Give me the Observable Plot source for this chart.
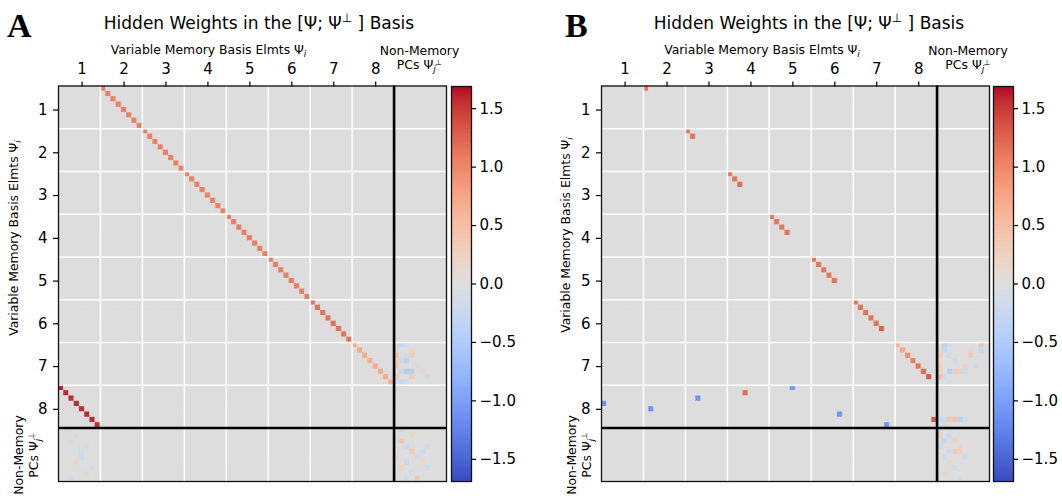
<!DOCTYPE html>
<html><head><meta charset="utf-8">
<script src="https://cdn.jsdelivr.net/npm/d3@7"></script>
<script src="https://cdn.jsdelivr.net/npm/@observablehq/plot@0.6"></script>
<style>
html,body{margin:0;padding:0;background:#fff;}
#fig{position:relative;width:1062px;height:498px;overflow:hidden;background:#fff;}
#fig svg{position:absolute;top:0;display:block;overflow:visible;}
#overlay{left:0;top:0;pointer-events:none;font-family:"DejaVu Sans",sans-serif;fill:#000;}
</style></head>
<body><div id="fig"></div>
<script>
// ---------------- data ----------------
const N_MEM = 64;            // 8 variables x 8 memory dims
const N_NONMEM = 10;         // non-memory PCs
const N = N_MEM + N_NONMEM;
const DIMS_PER_VAR = 8;
const varTicks = [1, 2, 3, 4, 5, 6, 7, 8];
const cbarTicks = [-1.5, -1.0, -0.5, 0.0, 0.5, 1.0, 1.5];
const V_MAX = 1.69;

// matplotlib "coolwarm" colour stops
const coolwarm = ["#3b4cc0","#445acc","#4d68d7","#5775e1","#6282ea","#6c8ef1","#779af7","#82a5fb","#8db0fe","#98b9ff","#a3c2ff","#aec9fd","#b8d0f9","#c2d5f4","#ccd9ee","#d5dbe6","#dddddd","#e5d8d1","#ecd3c5","#f1ccb9","#f5c4ad","#f7bba0","#f7b194","#f7a687","#f49a7b","#f18d6f","#ec7f63","#e57058","#de604d","#d55042","#cb3e38","#c0282f","#b40426"];

// Panel A: memory row r feeds column (r + 8) mod 64 ; one value per row
const aShiftValues = [
  1.05,1.05,1.05,1.05,1.05,1.05,1.05,1.05,
  1.05,1.05,1.05,1.05,1.05,1.05,1.05,1.05,
  1.05,1.05,1.05,1.05,1.05,1.05,1.05,1.05,
  1.07,1.07,1.07,1.07,1.07,1.07,1.07,1.07,
  1.07,1.07,1.07,1.07,1.07,1.07,1.07,1.07,
  1.15,1.15,1.15,1.15,1.15,1.15,1.15,1.15,
  0.66,0.68,0.68,0.66,0.68,0.70,0.68,0.66,
  1.62,1.58,1.58,1.56,1.56,1.58,1.58,1.56
];
// Panel A small entries [row, col, value]
const aNoise = [
  [48,64,-0.2],[48,65,-0.3],[48,66,-0.15],[49,64,0.25],[49,67,0.2],[50,64,0.45],[50,66,-0.2],[50,67,0.3],
  [51,64,0.3],[51,65,-0.2],[51,66,-0.35],[52,64,0.4],[52,68,0.15],[53,65,-0.3],[53,66,-0.5],[53,67,-0.45],
  [53,69,0.15],[54,64,0.35],[54,67,0.3],[54,70,-0.15],[55,64,-0.2],[55,65,-0.25],[55,66,-0.15],
  [64,65,-0.15],[65,67,0.15],[66,64,-0.2],[66,65,0.4],[67,66,-0.2],[67,70,-0.15],[68,67,0.35],[68,69,-0.2],
  [69,64,0.2],[69,68,-0.2],[70,66,-0.25],[70,69,0.15],[71,65,0.2],[71,70,-0.2],[72,67,-0.15],[73,68,0.35],[73,66,-0.15],
  [64,1,0.1],[65,3,-0.1],[66,2,0.12],[67,5,-0.12],[68,4,-0.15],[69,4,-0.2],[70,3,0.15],[71,6,-0.1],[72,5,0.12],[73,2,-0.1]
];

// Panel B entries [row, col, value]
const bEntries = [
  [0,8,1.12],
  [8,16,1.12],[9,17,1.15],
  [16,24,1.12],[17,25,1.12],[18,26,1.18],
  [24,32,1.12],[25,33,1.12],[26,34,1.12],[27,35,1.15],
  [32,40,1.12],[33,41,1.12],[34,42,1.12],[35,43,1.12],[36,44,1.15],
  [40,48,1.12],[41,49,1.15],[42,50,1.15],[43,51,1.15],[44,52,1.15],[45,53,1.25],
  [48,56,0.62],[49,57,0.72],[50,58,0.95],[51,59,1.05],[52,60,1.12],[53,61,1.2],[54,62,1.3],
  [56,36,-1.05],[57,27,1.2],[58,18,-1.1],[59,0,-1.15],[60,9,-1.1],[61,45,-1.1],[62,63,1.3],[63,54,-1.1]
];
const bNoise = [
  [48,65,-0.35],[48,66,-0.15],[48,72,0.45],[49,65,-0.3],[49,72,-0.3],[49,70,0.15],[50,64,0.35],[50,66,-0.2],
  [50,70,0.3],[51,64,0.2],[51,67,-0.15],[52,64,0.3],[52,69,0.2],[52,71,-0.2],[53,64,0.2],[53,66,-0.45],
  [53,67,0.3],[53,68,0.25],[53,69,-0.2],[54,64,0.55],[54,65,-0.15],[55,66,-0.1],
  [62,64,-0.3],[62,65,-0.25],[62,66,0.4],[62,67,0.45],[62,68,-0.4],[62,69,-0.15],[63,65,0.15],
  [64,64,-0.15],[65,64,0.3],[65,66,-0.2],[66,65,-0.3],[66,67,0.25],[67,64,-0.25],[67,68,0.2],[68,66,-0.2],
  [68,67,0.35],[68,68,0.3],[69,65,-0.2],[69,69,-0.2],[70,66,0.15],[71,67,-0.15],[72,65,0.1],[73,68,-0.1]
];

// ---------------- build ----------------
function cellsFrom(entries) {
  const m = Array.from({length: N}, () => new Array(N).fill(0));
  for (const [r, c, v] of entries) m[r][c] = v;
  const out = [];
  for (let r = 0; r < N; r++) for (let c = 0; c < N; c++) out.push({row: r, col: c, value: m[r][c]});
  return out;
}
const aEntries = aShiftValues.map((v, r) => [r, (r + DIMS_PER_VAR) % N_MEM, v]).concat(aNoise);
const cellsA = cellsFrom(aEntries);
const cellsB = cellsFrom(bEntries.concat(bNoise));

const tickPos = varTicks.map(k => (k - 1) * DIMS_PER_VAR + DIMS_PER_VAR / 2);
const gridPos = varTicks.slice(0, -1).map(k => k * DIMS_PER_VAR - 0.5);
const splitPos = [N_MEM - 0.5];
const tickFmt = d => String(varTicks[tickPos.indexOf(d)]);

const colorOpts = {
  type: "linear",
  domain: coolwarm.map((_, i) => -V_MAX + 2 * V_MAX * i / (coolwarm.length - 1)),
  range: coolwarm,
  clamp: true
};
const TOP = 85.5, BOTTOM = 481;
const baseStyle = {fontFamily: "DejaVu Sans, sans-serif", fontSize: "15px", color: "#000", background: "transparent", overflow: "visible"};

function heatmap(cells) {
  return Plot.plot({
    width: 450, height: 498,
    marginLeft: 58, marginRight: 4, marginTop: TOP, marginBottom: 498 - BOTTOM,
    x: {domain: [-0.5, N - 0.5], axis: null},
    y: {domain: [N - 0.5, -0.5], axis: null},
    color: colorOpts,
    style: baseStyle,
    marks: [
      Plot.rect([0], {x1: () => -0.5, x2: () => N - 0.5, y1: () => -0.5, y2: () => N - 0.5, fill: () => 0}),
      Plot.rect(cells, {x1: d => d.col - 0.5, x2: d => d.col + 0.5, y1: d => d.row - 0.5, y2: d => d.row + 0.5, fill: "value"}),
      Plot.ruleX(gridPos, {stroke: "#fff", strokeWidth: 1.5}),
      Plot.ruleY(gridPos, {stroke: "#fff", strokeWidth: 1.5}),
      Plot.ruleX(splitPos, {stroke: "#000", strokeWidth: 2.6}),
      Plot.ruleY(splitPos, {stroke: "#000", strokeWidth: 2.6}),
      Plot.frame({stroke: "#111", strokeWidth: 1.3}),
      Plot.axisX(tickPos, {anchor: "top", tickFormat: tickFmt, tickSize: 5, tickPadding: 7, label: null, strokeWidth: 1.2}),
      Plot.axisY(tickPos, {anchor: "left", tickFormat: tickFmt, tickSize: 5, tickPadding: 6, label: null, strokeWidth: 1.2})
    ]
  });
}

function colorbar() {
  const steps = 240;
  const lo = -V_MAX, st = 2 * V_MAX / steps;
  return Plot.plot({
    width: 90, height: 498,
    marginLeft: 10, marginRight: 60, marginTop: TOP + 0.5, marginBottom: 498 - BOTTOM,
    x: {domain: [0, 1], axis: null},
    y: {domain: [-V_MAX, V_MAX], axis: null},
    color: colorOpts,
    style: baseStyle,
    marks: [
      Plot.rect(d3.range(steps), {x1: () => 0, x2: () => 1, y1: i => lo + i * st, y2: i => Math.min(V_MAX, lo + (i + 1.6) * st), fill: i => lo + (i + 0.5) * st}),
      Plot.frame({stroke: "#111", strokeWidth: 1.3}),
      Plot.axisY(cbarTicks, {anchor: "right", tickSize: 4, tickPadding: 4, tickFormat: d3.format(".1f"), label: null, strokeWidth: 1.2})
    ]
  });
}

const fig = document.getElementById("fig");
const place = (el, left) => { el.style.left = left + "px"; fig.appendChild(el); };
place(heatmap(cellsA), 0);
place(colorbar(), 441);
place(heatmap(cellsB), 543);
place(colorbar(), 983);

// ---------------- text overlay ----------------
const sub = (t) => `<tspan font-size="9" font-style="italic" dy="3">${t}</tspan>`;
const perp = `<tspan font-size="8" dx="-0.5" dy="-7.5">⊥</tspan>`;
function panelText(p) {
  return `
  <text x="${p.letterX}" y="36.5" font-family="Liberation Serif, serif" font-weight="bold" font-size="34">${p.letter}</text>
  <text x="${p.titleX}" y="29" text-anchor="middle" font-size="17">Hidden Weights in the [Ψ; Ψ<tspan font-size="12" dy="-7">⊥</tspan><tspan dy="7"> ] Basis</tspan></text>
  <text x="${p.topLabX}" y="53.5" text-anchor="middle" font-size="12.4">Variable Memory Basis Elmts Ψ${sub("i")}</text>
  <text x="${p.nmX}" y="55" text-anchor="middle" font-size="12.4">Non-Memory</text>
  <text x="${p.nmX}" y="69" text-anchor="middle" font-size="12.4">PCs Ψ${sub("j")}${perp}</text>
  <text transform="translate(${p.yLabX},${p.yLabY}) rotate(-90)" text-anchor="middle" font-size="12.4">Variable Memory Basis Elmts Ψ${sub("i")}</text>
  <text transform="translate(${p.nm1X},455) rotate(-90)" text-anchor="middle" font-size="12.4">Non-Memory</text>
  <text transform="translate(${p.nm2X},455) rotate(-90)" text-anchor="middle" font-size="12.4">PCs Ψ${sub("j")}${perp}</text>`;
}
const svgNS = "http://www.w3.org/2000/svg";
const ov = document.createElementNS(svgNS, "svg");
ov.setAttribute("id", "overlay");
ov.setAttribute("width", 1062); ov.setAttribute("height", 498);
ov.innerHTML =
  panelText({letter: "A", letterX: 7, titleX: 259, topLabX: 208.5, nmX: 419.5, yLabX: 18, yLabY: 238, nm1X: 23, nm2X: 38}) +
  panelText({letter: "B", letterX: 565, titleX: 809, topLabX: 762, nmX: 968, yLabX: 570, yLabY: 235, nm1X: 576, nm2X: 591});
fig.appendChild(ov);
</script>
</body></html>
